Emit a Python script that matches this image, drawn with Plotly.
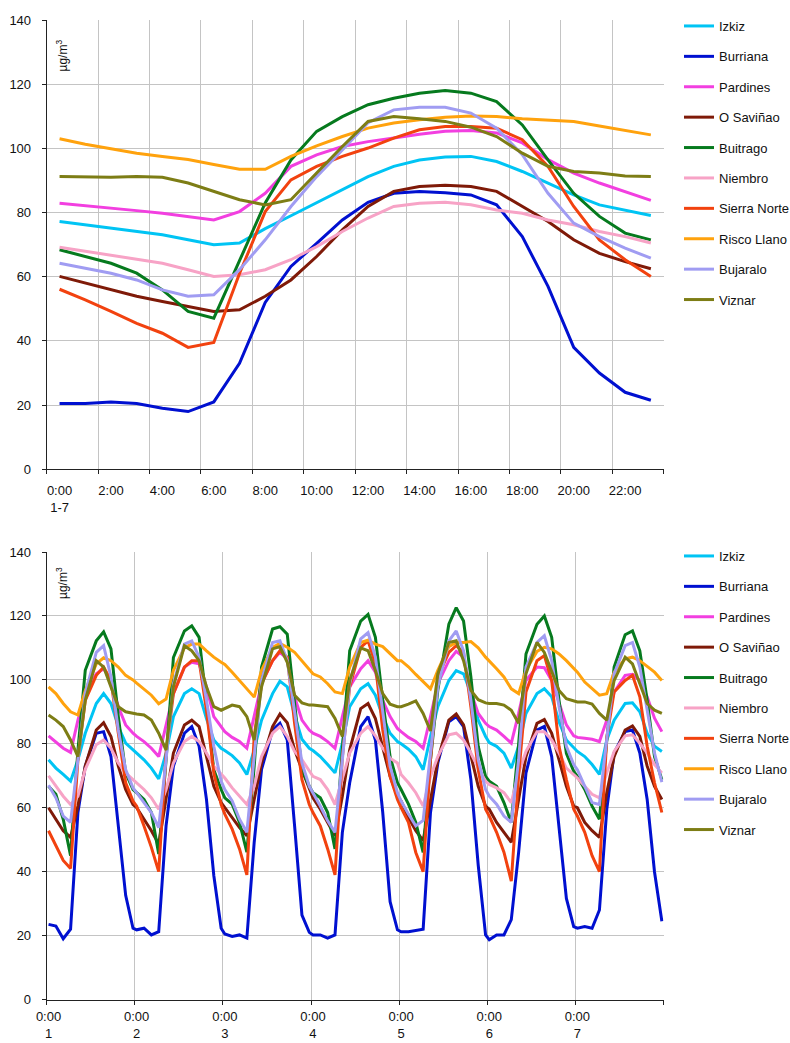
import plotly.graph_objects as go

SERIES = ["Izkiz", "Burriana", "Pardines", "O Saviñao", "Buitrago", "Niembro",
          "Sierra Norte", "Risco Llano", "Bujaralo", "Viznar"]
COLORS = ["#00C4F4", "#0010D0", "#F23FE0", "#7F1A08", "#067A1E", "#F7A3C6",
          "#F2420F", "#FFA20D", "#A09CF2", "#7D7D15"]

HOUR_LABELS = ["0:00<br>1-7", "2:00", "4:00", "6:00", "8:00", "10:00", "12:00",
               "14:00", "16:00", "18:00", "20:00", "22:00"]
DAY_LABELS = ["0:00<br>1", "0:00<br>2", "0:00<br>3", "0:00<br>4", "0:00<br>5",
              "0:00<br>6", "0:00<br>7"]
Y_TICKS = [0, 20, 40, 60, 80, 100, 120, 140]
UNIT = "µg/m<sup>3</sup>"

# ---- mean daily profile, one value per hour (0..23) ----
day_izkiz = [77.2, 76.2, 75.1, 74.1, 73.1, 71.5, 70, 70.5, 75, 79, 83, 87,
             91.2, 94.4, 96.4, 97.3, 97.5, 95.9, 92.8, 89.2, 85.5, 82.4, 80.8, 79.1]
day_burriana = [20.5, 20.5, 21, 20.5, 19, 18, 21, 33, 52, 63.2, 70.4, 77.7,
                83.2, 86, 86.6, 86.2, 85.5, 82.4, 72.5, 57, 38, 30, 24, 21.5]
day_pardines = [82.9, 82.2, 81.4, 80.6, 79.8, 78.8, 77.7, 80.3, 86, 94.4, 98, 100.6,
                102.1, 103.2, 104.4, 105.3, 105.6, 104.8, 101.7, 96.5, 92.3, 89.2, 86.6, 83.8]
day_osavinao = [60.1, 58, 55.9, 53.9, 52.3, 50.7, 49.2, 49.7, 53.9, 59, 66.3, 74.6,
                81.9, 86.6, 88.1, 88.5, 88.1, 86.6, 81.9, 77.2, 71.5, 67.3, 64.7, 62.5]
day_buitrago = [68.4, 66.3, 64.2, 61.1, 55.9, 49.2, 47.1, 65, 83, 96.4, 105.3, 109.9,
                113.6, 115.6, 117.2, 118, 117.2, 114.6, 107.3, 96.4, 86, 78.8, 73.6, 71.5]
day_niembro = [69.2, 67.9, 66.8, 65.3, 64.2, 62.2, 60.1, 60.6, 62.2, 65.3, 69.4, 74.1,
               78.3, 81.9, 82.9, 83.2, 82.4, 80.8, 79.8, 77.7, 76.2, 74.1, 72.5, 70.5]
day_sierra = [56.1, 52.8, 49.2, 45.5, 42.4, 38, 39.5, 61, 80.3, 90.2, 94.4, 97.5,
              100.1, 103.2, 105.8, 106.8, 106.8, 106.3, 102.7, 94.4, 81.9, 71.5, 65.3, 60.1]
day_risco = [103, 101.3, 99.9, 98.5, 97.5, 96.5, 95, 93.5, 93.5, 97.5, 100.8, 103.7,
             106.3, 107.9, 108.9, 109.7, 110.1, 109.9, 109.2, 108.9, 108.4, 107, 105.6, 104.2]
day_bujaralo = [64.2, 62.7, 61.1, 59, 55.9, 53.9, 54.4, 62.2, 71.5, 81.9, 91.2, 99.5,
                108, 112, 112.8, 112.8, 111, 106.3, 98, 86, 76.7, 72.5, 68.9, 65.8]
day_viznar = [91.2, 91, 91, 91.2, 91, 89.2, 86.6, 84, 82.4, 84, 92.3, 100.6,
              108.4, 109.9, 109.2, 108.4, 106.6, 103.7, 98.5, 94.4, 92.8, 92.3, 91.4, 91.2]

# ---- weekly profile, read at these hours of each of the 7 days ----
WEEK_HOURS = [0, 2, 4, 6, 8, 10, 13, 15, 17, 19, 21, 23]

wk_izkiz = [75, 72.4, 70.4, 68.3, 75, 83.3, 92.6, 95.7, 92.6, 85.4, 80.2, 78.1,
            77.1, 75, 72.4, 69, 77.1, 88.5, 95.7, 97.2, 95.7, 87.9, 81.2, 78.6,
            77.9, 76.3, 74, 70.4, 78.1, 87.4, 95.7, 99.6, 97.8, 89, 81.4, 78.6,
            77.9, 76, 73.5, 70.9, 80.2, 91.6, 97.2, 98.8, 95.2, 88.5, 83.3, 80.7,
            80, 78.3, 76, 71.9, 82.3, 91.6, 99.8, 102.9, 101.9, 95.7, 87.4, 82.3,
            80.4, 79.2, 77.1, 72.4, 79.2, 89.5, 95.7, 97.2, 94.7, 86.9, 81.2, 78.6,
            77.6, 76, 73.5, 70.4, 81.2, 87.4, 92.6, 92.8, 90, 83.3, 79.2, 77.6]
wk_burriana = [23.5, 23, 19, 22, 58.5, 73, 83.3, 83.8, 76, 54.3, 32.6, 22.3,
               21.8, 22.3, 20.2, 21.2, 54.3, 73, 83.3, 85.4, 79.2, 62.6, 38.8, 22.3,
               20.5, 19.7, 20.2, 19.2, 49.2, 72, 84.3, 86.4, 81.2, 54.3, 26.4, 21,
               20.2, 20.2, 19.2, 20.2, 52.3, 67.8, 85.4, 88.5, 81.2, 58.5, 30.6, 21.8,
               21.2, 21.2, 21.7, 22, 58.5, 74, 86.9, 88.5, 85.4, 68.8, 42, 20.2,
               18.7, 20.2, 20.2, 25, 46, 70.9, 84.3, 85.4, 76, 54.3, 31.6, 22.8,
               22.3, 22.8, 22.3, 28, 59.5, 77.1, 83.8, 84.3, 77.1, 62.6, 39.9, 24.5]
wk_pardines = [82.5, 80.7, 78.6, 77.3, 87.4, 95.7, 101.9, 103.5, 99.8, 91.6, 85.9, 83.3,
               82.3, 80.7, 78.6, 76, 85.4, 95.7, 104, 105.5, 105, 97.8, 88.5, 85.4,
               83.8, 82, 80.7, 78.6, 88.5, 98.8, 106, 108.6, 106.6, 94.7, 87.4, 84.3,
               83.3, 82.3, 80.7, 78.6, 88.5, 97.8, 103.5, 106, 102.4, 93.6, 88.5, 84.8,
               83.8, 82, 80.7, 78.6, 88.5, 98.8, 106, 108.9, 107.1, 96.2, 89.5, 86.4,
               85.4, 84.3, 82.3, 80.2, 89.5, 99.8, 104, 103.8, 99.8, 92.6, 85.9, 82.5,
               82, 81.7, 81.4, 80.7, 87.4, 96.2, 101.4, 101.7, 99.8, 94.7, 88, 83.8]
wk_osavinao = [60, 56.4, 52.8, 50.7, 60.5, 73, 84.3, 86.6, 82.3, 73, 65.7, 61,
               60, 56.4, 52.8, 48.6, 62.6, 77.1, 85.9, 87.4, 85.4, 76, 66.7, 61.6,
               60, 56.9, 53.8, 51.2, 62.6, 74, 85.4, 89.3, 86.6, 78.1, 71.9, 65.7,
               63.1, 59.5, 55.4, 51.2, 63.6, 78.1, 91, 92.6, 87.9, 79.2, 69.8, 63.6,
               62.1, 56.9, 52.8, 49.7, 62.6, 75, 87.4, 89.3, 85.9, 76, 66.7, 60.5,
               59.5, 55.4, 52.3, 49.2, 62.6, 76, 86.4, 87.6, 83.3, 75, 66.7, 60.5,
               60, 55.4, 52.8, 50.7, 64.7, 76, 84.3, 85.6, 82.3, 73, 66.7, 62.6]
wk_buitrago = [66.7, 64.2, 56.4, 45, 78, 103, 112.2, 115, 109.7, 88.5, 70.9, 65.7,
               64.7, 62.6, 58.5, 45.5, 75, 107, 115.3, 116.9, 113.3, 91.6, 71.9, 65.7,
               63.1, 61.1, 55.4, 46.1, 73, 104, 115.9, 116.6, 114.3, 92.6, 71.9, 66.7,
               64.7, 63.1, 58.5, 47.1, 79.2, 109.1, 118.4, 120.5, 113.3, 93.6, 76, 67.8,
               65.7, 61.1, 55.4, 46, 75, 96.8, 117.4, 122.6, 118.4, 100.9, 79.2, 69.8,
               68.3, 66.7, 61.6, 55.4, 80, 108.1, 117.4, 120, 113.3, 93.6, 77, 71.4,
               69.8, 65.7, 60.5, 56.4, 81, 104, 114.1, 115.3, 109.1, 93.6, 76, 68.8]
wk_niembro = [70, 66.7, 63.6, 61, 63.6, 72, 79.7, 81.2, 78.6, 74, 70.9, 68.8,
              67.8, 65.7, 63.1, 59.5, 65.7, 74, 80.7, 82.3, 80.7, 77.1, 73, 70.4,
              69.3, 66.2, 63.6, 61, 66.7, 76, 83.3, 85.4, 82.3, 77.6, 75, 71.4,
              69.8, 68.8, 65.7, 61, 68.8, 77.1, 83.3, 85.4, 82.5, 78.6, 75.5, 74,
              70.4, 67.8, 64.7, 60.5, 69.8, 76, 82.8, 83.3, 81.2, 77.1, 72.4, 68.3,
              67.3, 66.2, 64.7, 61.6, 70.9, 77.6, 83.8, 83.8, 81.2, 77.1, 72.4, 70.4,
              69.3, 66.7, 64.2, 63.1, 70.9, 77.6, 82.5, 82.8, 80.2, 77.1, 73.5, 70.9]
wk_sierra = [52.8, 48.1, 43.5, 41, 75, 93.6, 101.4, 104, 99.8, 83.3, 67.8, 62.1,
             60.5, 54.3, 47.6, 40, 77.1, 95.7, 104, 106, 106, 90.5, 70.9, 61,
             58, 53.3, 47.1, 39, 82.3, 98.8, 106, 109.1, 107.1, 86.4, 68.8, 61,
             58.5, 54.3, 47.1, 39, 75.8, 97.8, 110.2, 112.2, 105, 84.3, 69.8, 62.6,
             60, 55.4, 46, 40, 75, 101, 108.6, 110.7, 108.6, 91.6, 71.9, 59.5,
             57.4, 52.3, 46.1, 37, 70, 96.2, 106, 107.6, 99.8, 79.2, 68.8, 59.5,
             57.4, 52.3, 45, 40, 82, 96.2, 99.8, 101.4, 94.7, 79.2, 67.8, 58.5]
wk_risco = [97.8, 95.7, 92.6, 90, 89, 96.7, 105, 106.9, 106, 104, 101.4, 100,
            99, 97, 95.2, 92.5, 94, 103, 110, 111.2, 111.2, 109.1, 107.1, 105.5,
            104.8, 102.4, 99.8, 97.2, 94.6, 103, 110.2, 111.4, 110.2, 108.6, 106, 103.5,
            101.9, 100.9, 98.8, 96.2, 95.7, 104, 111.7, 112.4, 111.2, 110.4, 108.1, 106,
            106, 104.1, 101.7, 99.3, 97.2, 103, 110.4, 111.7, 111.7, 112, 110, 107.1,
            106, 103.5, 100.9, 97.2, 95.7, 103.1, 108.9, 110.2, 109.7, 108.1, 106, 103.5,
            102.4, 99.3, 97.2, 95.2, 95.7, 102.4, 106.6, 107.1, 106, 104.2, 102.4, 99.8]
wk_bujaralo = [67, 63.1, 57.4, 55.4, 75, 95.7, 108.6, 110.7, 100.9, 84.3, 71.9, 66.2,
               64.7, 61.6, 58.5, 53.8, 75, 98.8, 111.2, 112.2, 107.1, 93.6, 79.2, 68.3,
               65.7, 62.1, 56.4, 52.3, 77.1, 99.8, 111.7, 112.2, 106, 89.5, 74, 66.7,
               64.7, 60.5, 55.9, 52.3, 75, 98.8, 112.8, 114.8, 107.1, 89.5, 73, 64.7,
               62.1, 58, 54.3, 56, 78, 97.8, 112.2, 115.3, 109.1, 93.6, 75, 65.7,
               63.6, 61.1, 57.4, 55.4, 75, 104, 111.7, 113.8, 106, 91.6, 79.2, 73.5,
               71.9, 66.7, 61.6, 61, 82, 101.9, 110.7, 111.7, 104, 90.5, 77.1, 68]
wk_viznar = [89, 87.4, 85.4, 81.2, 76, 93.6, 106, 104, 97.8, 91.6, 90, 89.5,
             89.3, 89, 87.4, 83.3, 78, 97.8, 110.7, 109.1, 106, 97.8, 91.6, 90.5,
             91, 92.1, 91.6, 88.5, 81.2, 97.8, 109.7, 110.4, 105.5, 95.2, 92.8, 92.1,
             92.1, 91.9, 91.6, 87.9, 82.3, 99.8, 110, 109.1, 102.9, 95.7, 92.4, 91.6,
             91.6, 92.4, 93.4, 89.5, 84, 101.9, 111.7, 112.2, 106, 96.7, 93.8, 92.8,
             92.6, 92.6, 92.1, 90.5, 86.4, 101.9, 111.7, 108.6, 102.9, 96.7, 94.1, 93.4,
             93.1, 93.1, 92.4, 89.5, 87.4, 99.8, 107.1, 105, 98.8, 92.6, 90.5, 89.5]

DAY_DATA = [day_izkiz, day_burriana, day_pardines, day_osavinao, day_buitrago,
            day_niembro, day_sierra, day_risco, day_bujaralo, day_viznar]
WEEK_DATA = [wk_izkiz, wk_burriana, wk_pardines, wk_osavinao, wk_buitrago,
             wk_niembro, wk_sierra, wk_risco, wk_bujaralo, wk_viznar]

# category centres (Excel category axis: points sit mid-category)
x_day = [h + 0.5 for h in range(24)]
x_week = [d * 24 + h + 0.5 for d in range(7) for h in WEEK_HOURS]

W, H = 790, 1043
FONT = "Liberation Sans, Arial, sans-serif"
GRID = "#C4C4C4"

fig = go.Figure()
for name, col, yd, yw in zip(SERIES, COLORS, DAY_DATA, WEEK_DATA):
    fig.add_trace(go.Scatter(x=x_day, y=yd, name=name, mode="lines",
                             line=dict(color=col, width=3),
                             xaxis="x", yaxis="y", legend="legend",
                             legendgroup="top_" + name))
    fig.add_trace(go.Scatter(x=x_week, y=yw, name=name, mode="lines",
                             line=dict(color=col, width=3),
                             xaxis="x2", yaxis="y2", legend="legend2",
                             legendgroup="bot_" + name))

xdom = [46.7 / W, 663.7 / W]
ydom_top = [1 - 469.3 / H, 1 - 20 / H]
ydom_bot = [1 - 999.5 / H, 1 - 552 / H]

def xaxis(rng, tv, tt, minor_vals, anchor, standoff):
    return dict(domain=xdom, range=rng, anchor=anchor, automargin=False,
                tickmode="array", tickvals=tv, ticktext=tt, ticks="",
                showgrid=False, zeroline=False,
                showline=True, linecolor="#222", linewidth=1,
                tickfont=dict(size=13, color="#111", family=FONT),
                ticklabelstandoff=standoff,
                minor=dict(tickmode="array", tickvals=minor_vals, ticks="outside",
                           ticklen=4, tickcolor="#222", showgrid=True,
                           gridcolor=GRID, gridwidth=1))

def yaxis(dom, anchor):
    return dict(domain=dom, range=[0, 140], anchor=anchor, automargin=False,
                tickmode="array", tickvals=Y_TICKS, ticks="outside", ticklen=4,
                tickcolor="#222", showgrid=True, gridcolor=GRID, gridwidth=1,
                zeroline=False, showline=True, linecolor="#222", linewidth=1,
                tickfont=dict(size=13, color="#111", family=FONT),
                ticklabelstandoff=8)

legend_common = dict(font=dict(size=13, color="#111", family=FONT),
                     bgcolor="rgba(0,0,0,0)", borderwidth=0,
                     traceorder="grouped", tracegroupgap=10.5,
                     xanchor="left", yanchor="top", itemclick=False)

fig.update_layout(
    width=W, height=H, margin=dict(l=0, r=0, t=0, b=0, autoexpand=False),
    paper_bgcolor="white", plot_bgcolor="white",
    font=dict(family=FONT, color="#111"),
    showlegend=True,
    xaxis=xaxis([0, 24], x_day[::2], HOUR_LABELS, list(range(0, 25, 2)), "y", 9),
    yaxis=yaxis(ydom_top, "x"),
    xaxis2=xaxis([0, 168], [d * 24 + 0.5 for d in range(7)], DAY_LABELS,
                 list(range(0, 169, 24)), "y2", 5),
    yaxis2=yaxis(ydom_bot, "x2"),
    legend=dict(x=679 / W, y=1 - 11 / H, **legend_common),
    legend2=dict(x=679 / W, y=1 - 541 / H, **legend_common),
    annotations=[
        dict(text=UNIT, textangle=-90, x=61.5 / W, y=1 - 56 / H, xref="paper",
             yref="paper", xanchor="center", yanchor="middle", showarrow=False,
             font=dict(size=12, color="#111", family=FONT)),
        dict(text=UNIT, textangle=-90, x=62 / W, y=1 - 583 / H, xref="paper",
             yref="paper", xanchor="center", yanchor="middle", showarrow=False,
             font=dict(size=12, color="#111", family=FONT)),
    ],
)

fig.write_html("out.html")
